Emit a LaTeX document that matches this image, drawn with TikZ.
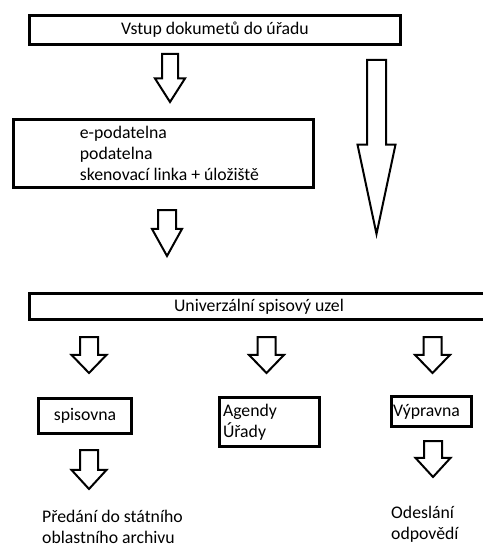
\documentclass[tikz,border=0pt]{standalone}
\usepackage{fontspec}
\setmainfont{Carlito}
\usetikzlibrary{shapes.arrows, positioning}

\begin{document}
\begin{tikzpicture}[x=1bp, y=-1bp,
  every node/.style={font=\fontsize{17.8}{21}\selectfont},
  box/.style={rectangle, draw, line width=2.6bp, inner sep=0pt},
  blk/.style={single arrow, draw, line width=2bp, shape border rotate=270,
    minimum width=0pt, inner ysep=0pt, anchor=tail}]
  \useasboundingbox (0,0) rectangle (483,547);
  \node[box, minimum width=371bp, minimum height=29bp] (entry) at (215,30) {Vstup dokumetů do úřadu};
  \node[box, minimum width=300bp, minimum height=68bp] (podbox) at (163.5,153.5) {};
  \node[right=67.5bp of podbox.west, align=left, inner sep=0pt] (podtext) {e-podatelna\\podatelna\\skenovací linka + úložiště};
  \node[box, minimum width=459bp, minimum height=26bp] (uzel) at (259,306.5) {Univerzální spisový uzel};
  \node[box, minimum width=93bp, minimum height=35bp] (spis) at (85,416) {spisovna};
  \node[box, minimum width=100bp, minimum height=49bp, text width=93bp, inner xsep=3.5bp, align=left] (agendy) at (269.5,422) {Agendy\\Úřady};
  \node[box, minimum width=80bp, minimum height=30bp, text width=77bp, inner xsep=1.5bp, align=left] (vyprav) at (431.5,411.5) {Výpravna};
  \node[anchor=base west, align=left, inner sep=0pt] (archiv) at (42,543) {Předání do státního\\oblastního archivu};
  \node[anchor=base west, align=left, inner sep=0pt] (odesl) at (391,539) {Odeslání\\odpovědí};

  \node[blk, inner xsep=7bp, single arrow head extend=7bp, minimum height=48bp, single arrow tip angle=65] (a1) at (170,53) {};
  \node[blk, inner xsep=8.5bp, single arrow head extend=9.5bp, minimum height=174bp, single arrow tip angle=24] (a2) at (376.5,59) {};
  \node[blk, inner xsep=8bp, single arrow head extend=6bp, minimum height=46bp, single arrow tip angle=58] (a3) at (167,209) {};
  \node[blk, inner xsep=8bp, single arrow head extend=8.5bp, minimum height=36bp, single arrow tip angle=88] (ra) at (89,336) {};
  \node[blk, inner xsep=8bp, single arrow head extend=8.5bp, minimum height=36bp, single arrow tip angle=88] (rb) at (266.5,336) {};
  \node[blk, inner xsep=8bp, single arrow head extend=8.5bp, minimum height=36bp, single arrow tip angle=88] (rc) at (432.5,336) {};
  \node[blk, inner xsep=8bp, single arrow head extend=8.5bp, minimum height=39bp, single arrow tip angle=85] (sd) at (89,449) {};
  \node[blk, inner xsep=8bp, single arrow head extend=8.5bp, minimum height=36bp, single arrow tip angle=85] (vd) at (433,440) {};
\end{tikzpicture}
\end{document}
